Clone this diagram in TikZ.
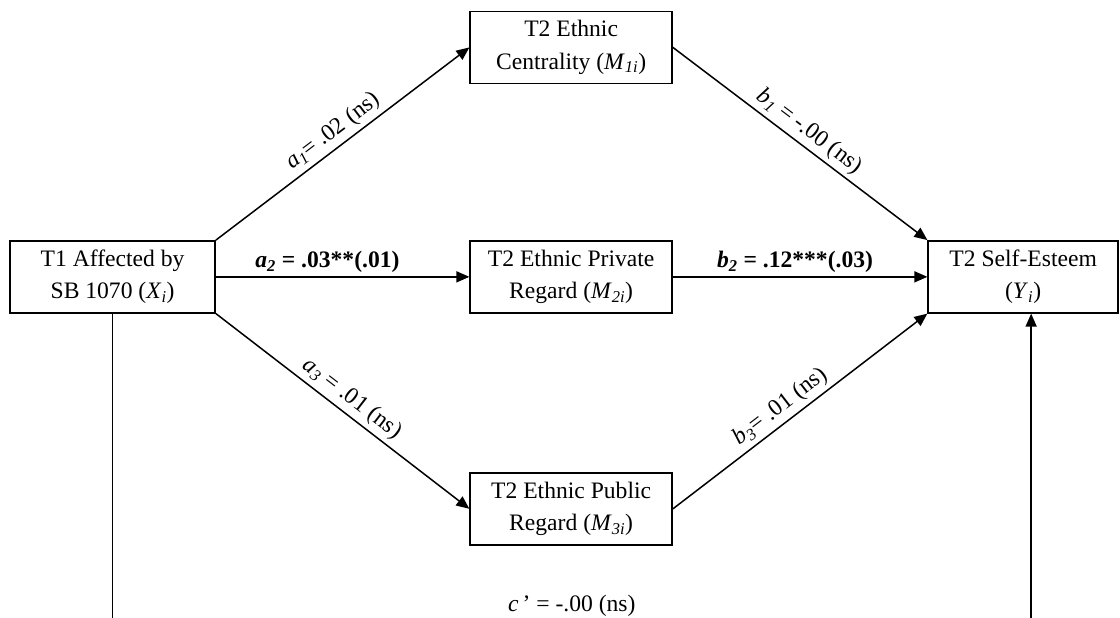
\documentclass[tikz,border=0pt]{standalone}
\usepackage{fontspec}
\setmainfont{Liberation Serif}
\usetikzlibrary{arrows.meta}
\newcommand{\vsub}[2]{\textit{#1}\textsubscript{\textit{#2}}}

\begin{document}
\begin{tikzpicture}[
  font=\fontsize{23.5}{32}\selectfont,
  box/.style={draw, line width=1.5pt, align=center, inner sep=2pt, minimum height=2.52cm},
  med/.style={box, minimum width=7.07cm},
  arr/.style={-{Triangle[length=13pt,width=11pt]}, line width=1.5pt},
  lbl/.style={sloped, above, inner sep=4pt}]
\useasboundingbox (0,0) rectangle (39.2,21.63);
\clip (0,0) rectangle (39.2,21.63);
\node[box, minimum width=7.18cm] (x) at (3.94,11.94) {T1 Affected by\\SB 1070 (\vsub{X}{i})};
\node[med] (m1) at (19.99,19.97) {T2 Ethnic\\Centrality (\vsub{M}{1i})};
\node[med] (m2) at (19.99,11.94) {T2 Ethnic Private\\Regard (\vsub{M}{2i})};
\node[med] (m3) at (19.99,3.82) {T2 Ethnic Public\\Regard (\vsub{M}{3i})};
\node[box, minimum width=6.65cm] (y) at (35.81,11.94) {T2 Self-Esteem\\(\vsub{Y}{i})};
\coordinate (bot) at (0,-0.1);
\coordinate (yin) at ([xshift=0.28cm]y.south);
% indirect paths
\draw[arr] (x.north east) -- node[lbl]{\vsub{a}{1}= .02 (ns)} (m1.west);
\draw[arr] (x.east) -- node[above, pos=0.44]{\textbf{\vsub{a}{2} = .03**(.01)}} (m2.west);
\draw[arr] (x.south east) -- node[lbl]{\vsub{a}{3} = .01 (ns)} (m3.west);
\draw[arr] (m1.east) -- node[lbl]{\vsub{b}{1} = -.00 (ns)} (y.north west);
\draw[arr] (m2.east) -- node[above, pos=0.48]{\textbf{\vsub{b}{2} = .12***(.03)}} (y.west);
\draw[arr] (m3.east) -- node[lbl, pos=0.46]{\vsub{b}{3}= .01 (ns)} (y.south west);
% direct path
\draw[arr] (x.south) -- (x.south |- bot) -| node[above, pos=0.25]{\textit{c}\,’ = -.00 (ns)} (yin);
\end{tikzpicture}
\end{document}
